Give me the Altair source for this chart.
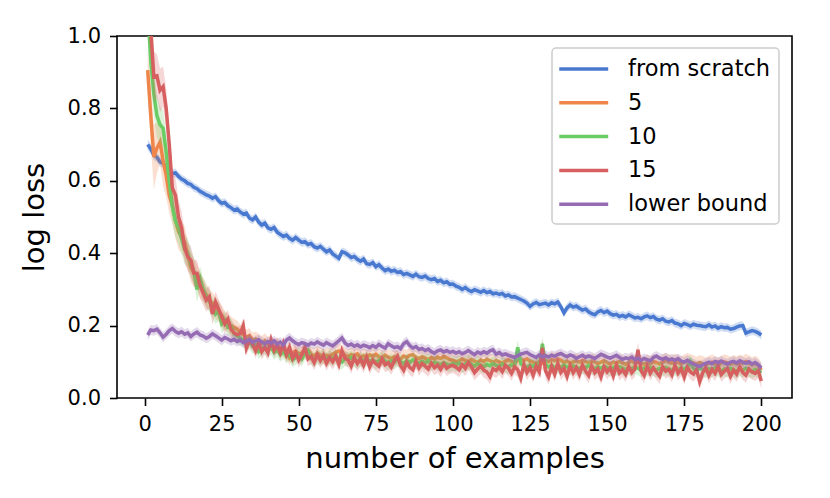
import altair as alt
import pandas as pd

x_vals = list(range(1, 201))
series_names = ["from scratch", "5", "10", "15", "lower bound"]
colors = ["#4878d0", "#ee854a", "#6acc64", "#d65f5f", "#956cb4"]
x_ticks = [0, 25, 50, 75, 100, 125, 150, 175, 200]
y_ticks = [0.0, 0.2, 0.4, 0.6, 0.8, 1.0]

scratch = [
    0.700, 0.688, 0.671, 0.665, 0.652, 0.648, 0.640, 0.626, 0.620, 0.622,
    0.612, 0.605, 0.600, 0.593, 0.590, 0.582, 0.578, 0.571, 0.566, 0.561,
    0.558, 0.552, 0.556, 0.545, 0.538, 0.540, 0.531, 0.526, 0.519, 0.522,
    0.514, 0.508, 0.511, 0.497, 0.492, 0.500, 0.486, 0.478, 0.483, 0.470,
    0.466, 0.471, 0.458, 0.452, 0.446, 0.450, 0.441, 0.436, 0.443, 0.436,
    0.430, 0.432, 0.424, 0.427, 0.418, 0.414, 0.419, 0.411, 0.404, 0.409,
    0.398, 0.392, 0.386, 0.404, 0.401, 0.395, 0.388, 0.391, 0.383, 0.378,
    0.384, 0.371, 0.369, 0.374, 0.363, 0.368, 0.359, 0.352, 0.356, 0.350,
    0.353, 0.347, 0.349, 0.341, 0.344, 0.340, 0.336, 0.342, 0.335, 0.333,
    0.337, 0.330, 0.327, 0.330, 0.322, 0.325, 0.318, 0.321, 0.314, 0.315,
    0.309, 0.306, 0.300, 0.305, 0.298, 0.294, 0.299, 0.296, 0.292, 0.297,
    0.291, 0.294, 0.288, 0.290, 0.286, 0.289, 0.282, 0.285, 0.279, 0.280,
    0.276, 0.272, 0.268, 0.262, 0.253, 0.260, 0.264, 0.258, 0.260, 0.262,
    0.257, 0.263, 0.260, 0.265, 0.252, 0.235, 0.249, 0.257, 0.251, 0.254,
    0.248, 0.243, 0.246, 0.238, 0.233, 0.230, 0.238, 0.242, 0.236, 0.240,
    0.233, 0.229, 0.231, 0.225, 0.228, 0.224, 0.230, 0.226, 0.221, 0.223,
    0.219, 0.224, 0.227, 0.222, 0.225, 0.218, 0.215, 0.219, 0.212, 0.210,
    0.214, 0.207, 0.205, 0.200, 0.206, 0.203, 0.199, 0.204, 0.201, 0.200,
    0.198, 0.197, 0.202, 0.196, 0.199, 0.193, 0.197, 0.194, 0.195, 0.190,
    0.192, 0.196, 0.199, 0.200, 0.179, 0.183, 0.186, 0.184, 0.180, 0.174,
]

five = [
    0.906, 0.780, 0.666, 0.690, 0.707, 0.655, 0.615, 0.560, 0.530, 0.490,
    0.460, 0.445, 0.430, 0.395, 0.360, 0.345, 0.335, 0.310, 0.300, 0.285,
    0.270, 0.262, 0.248, 0.240, 0.228, 0.215, 0.207, 0.200, 0.195, 0.190,
    0.182, 0.175, 0.168, 0.172, 0.160, 0.163, 0.157, 0.150, 0.158, 0.148,
    0.152, 0.140, 0.146, 0.138, 0.133, 0.128, 0.112, 0.125, 0.130, 0.122,
    0.124, 0.128, 0.133, 0.120, 0.117, 0.123, 0.119, 0.112, 0.118, 0.115,
    0.121, 0.126, 0.130, 0.124, 0.118, 0.113, 0.120, 0.116, 0.122, 0.111,
    0.117, 0.112, 0.119, 0.115, 0.121, 0.114, 0.110, 0.118, 0.113, 0.109,
    0.114, 0.108, 0.107, 0.116, 0.112, 0.118, 0.120, 0.111, 0.109, 0.114,
    0.110, 0.106, 0.112, 0.108, 0.113, 0.109, 0.115, 0.111, 0.106, 0.104,
    0.100, 0.103, 0.108, 0.104, 0.099, 0.106, 0.102, 0.098, 0.105, 0.101,
    0.107, 0.103, 0.099, 0.104, 0.100, 0.097, 0.102, 0.106, 0.101, 0.098,
    0.103, 0.107, 0.104, 0.108, 0.102, 0.099, 0.094, 0.101, 0.097, 0.104,
    0.100, 0.106, 0.103, 0.108, 0.104, 0.098, 0.102, 0.096, 0.100, 0.103,
    0.099, 0.104, 0.101, 0.097, 0.102, 0.100, 0.095, 0.099, 0.103, 0.098,
    0.094, 0.099, 0.096, 0.101, 0.097, 0.093, 0.098, 0.102, 0.096, 0.100,
    0.097, 0.093, 0.099, 0.095, 0.101, 0.098, 0.094, 0.099, 0.103, 0.100,
    0.096, 0.101, 0.098, 0.094, 0.099, 0.103, 0.100, 0.097, 0.093, 0.098,
    0.095, 0.091, 0.096, 0.099, 0.094, 0.090, 0.096, 0.100, 0.097, 0.093,
    0.098, 0.094, 0.099, 0.096, 0.101, 0.097, 0.092, 0.096, 0.090, 0.077,
]

ten = [
    1.080, 0.930, 0.840, 0.780, 0.755, 0.745, 0.680, 0.600, 0.530, 0.490,
    0.470, 0.440, 0.410, 0.400, 0.370, 0.350, 0.300, 0.330, 0.300, 0.280,
    0.268, 0.250, 0.232, 0.240, 0.205, 0.215, 0.195, 0.198, 0.178, 0.172,
    0.165, 0.160, 0.150, 0.155, 0.143, 0.148, 0.128, 0.135, 0.142, 0.130,
    0.140, 0.126, 0.133, 0.120, 0.128, 0.116, 0.122, 0.105, 0.112, 0.118,
    0.108, 0.124, 0.130, 0.112, 0.105, 0.114, 0.109, 0.117, 0.106, 0.113,
    0.108, 0.115, 0.103, 0.099, 0.110, 0.106, 0.112, 0.104, 0.100, 0.108,
    0.103, 0.109, 0.101, 0.106, 0.098, 0.104, 0.110, 0.102, 0.097, 0.103,
    0.099, 0.106, 0.101, 0.095, 0.103, 0.098, 0.105, 0.100, 0.096, 0.102,
    0.097, 0.103, 0.094, 0.099, 0.096, 0.092, 0.098, 0.094, 0.090, 0.096,
    0.092, 0.097, 0.089, 0.094, 0.099, 0.093, 0.088, 0.095, 0.091, 0.086,
    0.093, 0.089, 0.095, 0.090, 0.087, 0.094, 0.090, 0.085, 0.092, 0.088,
    0.140, 0.095, 0.089, 0.084, 0.091, 0.087, 0.093, 0.085, 0.150, 0.092,
    0.086, 0.090, 0.083, 0.088, 0.084, 0.091, 0.086, 0.082, 0.089, 0.085,
    0.081, 0.087, 0.083, 0.090, 0.085, 0.080, 0.086, 0.082, 0.088, 0.084,
    0.079, 0.085, 0.081, 0.087, 0.083, 0.078, 0.084, 0.080, 0.086, 0.082,
    0.077, 0.083, 0.079, 0.085, 0.081, 0.076, 0.082, 0.078, 0.084, 0.080,
    0.076, 0.082, 0.078, 0.084, 0.079, 0.085, 0.100, 0.081, 0.077, 0.083,
    0.079, 0.075, 0.081, 0.077, 0.083, 0.078, 0.074, 0.080, 0.076, 0.082,
    0.078, 0.074, 0.080, 0.076, 0.082, 0.077, 0.073, 0.079, 0.075, 0.070,
]

fifteen = [
    1.120, 1.020, 0.887, 0.890, 0.850, 0.860, 0.800, 0.700, 0.580, 0.560,
    0.500, 0.470, 0.415, 0.390, 0.380, 0.345, 0.344, 0.310, 0.290, 0.270,
    0.280, 0.232, 0.265, 0.245, 0.225, 0.205, 0.218, 0.190, 0.180, 0.175,
    0.178, 0.200, 0.138, 0.160, 0.150, 0.130, 0.152, 0.128, 0.140, 0.125,
    0.160, 0.132, 0.146, 0.125, 0.150, 0.120, 0.140, 0.110, 0.125, 0.105,
    0.120, 0.140, 0.108, 0.115, 0.098, 0.120, 0.104, 0.118, 0.096, 0.112,
    0.100, 0.115, 0.093, 0.130, 0.110, 0.105, 0.088, 0.112, 0.095, 0.108,
    0.090, 0.112, 0.086, 0.104, 0.095, 0.088, 0.108, 0.092, 0.097, 0.085,
    0.103, 0.115, 0.090, 0.077, 0.098, 0.085, 0.078, 0.101, 0.083, 0.095,
    0.088, 0.080, 0.096, 0.084, 0.091, 0.079, 0.094, 0.082, 0.088, 0.090,
    0.085, 0.078, 0.092, 0.082, 0.098, 0.086, 0.070, 0.080, 0.088, 0.077,
    0.072, 0.059, 0.081, 0.076, 0.085, 0.073, 0.090, 0.082, 0.068, 0.086,
    0.078, 0.055, 0.092, 0.070, 0.084, 0.063, 0.088, 0.072, 0.138, 0.075,
    0.058, 0.087, 0.066, 0.095, 0.071, 0.082, 0.060, 0.089, 0.070, 0.084,
    0.065, 0.091, 0.074, 0.062, 0.088, 0.070, 0.080, 0.058, 0.086, 0.072,
    0.083, 0.061, 0.090, 0.069, 0.078, 0.065, 0.087, 0.070, 0.080, 0.133,
    0.075, 0.062, 0.088, 0.068, 0.083, 0.071, 0.060, 0.086, 0.074, 0.079,
    0.064, 0.090, 0.069, 0.081, 0.058, 0.085, 0.072, 0.066, 0.078, 0.045,
    0.070, 0.084, 0.062, 0.079, 0.068, 0.088, 0.065, 0.074, 0.082, 0.060,
    0.077, 0.066, 0.086, 0.070, 0.063, 0.080, 0.072, 0.068, 0.075, 0.047,
]

lower = [
    0.174, 0.188, 0.186, 0.190, 0.180, 0.168, 0.176, 0.186, 0.192, 0.184,
    0.179, 0.183, 0.176, 0.180, 0.170, 0.177, 0.182, 0.174, 0.171, 0.165,
    0.170, 0.177, 0.172, 0.166, 0.160, 0.167, 0.163, 0.158, 0.162, 0.156,
    0.160, 0.153, 0.157, 0.162, 0.154, 0.158, 0.161, 0.155, 0.150, 0.156,
    0.152, 0.158, 0.149, 0.154, 0.147, 0.160, 0.166, 0.158, 0.152, 0.148,
    0.153, 0.150, 0.146, 0.152, 0.149, 0.155, 0.150, 0.146, 0.153, 0.148,
    0.144, 0.151, 0.158, 0.166, 0.152, 0.145, 0.149, 0.143, 0.147, 0.141,
    0.146, 0.143, 0.139, 0.145, 0.140, 0.148, 0.142, 0.138, 0.150, 0.144,
    0.139, 0.142, 0.136, 0.150, 0.156, 0.145, 0.138, 0.142, 0.134, 0.137,
    0.131, 0.135, 0.128, 0.124, 0.130, 0.133, 0.127, 0.131, 0.126, 0.129,
    0.124, 0.128, 0.122, 0.126, 0.131, 0.125, 0.120, 0.127, 0.123, 0.128,
    0.124, 0.130, 0.133, 0.121, 0.126, 0.119, 0.122, 0.118, 0.115, 0.112,
    0.117, 0.121, 0.124, 0.126, 0.120, 0.116, 0.112, 0.119, 0.114, 0.117,
    0.113, 0.118, 0.115, 0.120, 0.123, 0.118, 0.114, 0.119, 0.116, 0.110,
    0.114, 0.118, 0.112, 0.116, 0.113, 0.109, 0.115, 0.121, 0.117, 0.113,
    0.110, 0.114, 0.118, 0.112, 0.107, 0.111, 0.108, 0.113, 0.106, 0.110,
    0.104, 0.109, 0.106, 0.103, 0.112, 0.116, 0.110, 0.107, 0.111, 0.105,
    0.108, 0.104, 0.109, 0.102, 0.099, 0.104, 0.098, 0.094, 0.090, 0.087,
    0.092, 0.096, 0.099, 0.095, 0.101, 0.098, 0.102, 0.097, 0.094, 0.099,
    0.101, 0.097, 0.103, 0.099, 0.096, 0.100, 0.094, 0.098, 0.092, 0.083,
]

# confidence band half-widths (early values listed, later ones steady)
scratch_hw = [0.015, 0.014, 0.014, 0.013, 0.013] + [0.012] * 195
five_hw = [0.060, 0.080, 0.090, 0.070, 0.060, 0.070, 0.060, 0.050, 0.050, 0.050,
           0.050, 0.045, 0.045, 0.040, 0.040, 0.038, 0.035, 0.035, 0.032, 0.032,
           0.030, 0.030, 0.030, 0.028, 0.028, 0.026, 0.026, 0.025, 0.024, 0.024] + [0.021] * 170
ten_hw = [0.080, 0.070, 0.060, 0.060, 0.050, 0.050, 0.050, 0.050, 0.045, 0.045,
          0.045, 0.042, 0.040, 0.040, 0.038, 0.036, 0.035, 0.033, 0.032, 0.031,
          0.030, 0.029, 0.028, 0.027, 0.026, 0.025, 0.024, 0.023, 0.023, 0.022] + [0.020] * 170
fifteen_hw = [0.080, 0.080, 0.070, 0.060, 0.060, 0.055, 0.055, 0.050, 0.050, 0.050,
              0.048, 0.045, 0.042, 0.040, 0.040, 0.038, 0.036, 0.035, 0.034, 0.032,
              0.031, 0.030, 0.029, 0.028, 0.027, 0.026, 0.025, 0.025, 0.024, 0.024] + [0.021] * 170
lower_hw = [0.014] * 200

means = [scratch, five, ten, fifteen, lower]
hws = [scratch_hw, five_hw, ten_hw, fifteen_hw, lower_hw]
for m, h in zip(means, hws):
    assert len(m) == 200 and len(h) == 200

rows = []
for name, m, h in zip(series_names, means, hws):
    for xv, mv, hv in zip(x_vals, m, h):
        rows.append({"x": xv, "series": name, "mean": mv, "lo": mv - hv, "hi": mv + hv})
df = pd.DataFrame(rows)

xscale = alt.Scale(domain=[-8.95, 209.95], nice=False, zero=False)
yscale = alt.Scale(domain=[0, 1], nice=False)
xenc = alt.X("x:Q", scale=xscale, title="number of examples",
             axis=alt.Axis(values=x_ticks, format="d"))
cscale = alt.Scale(domain=series_names, range=colors)
legend = alt.Legend(
    title=None, orient="none", legendX=435, legendY=12,
    symbolType="M-1.25,0H3.2", symbolSize=484, symbolStrokeWidth=3.5,
    labelFontSize=22.5, labelFont="DejaVu Sans", labelColor="black",
    labelOffset=42, padding=8, rowPadding=8.8,
    strokeColor="#cccccc", fillColor="rgba(255,255,255,0.8)", cornerRadius=4,
)

layers = []
for name, col in zip(series_names, colors):
    base = alt.Chart(df).transform_filter(alt.datum.series == name)
    band = base.mark_area(clip=True, opacity=0.25, color=col).encode(
        x=xenc,
        y=alt.Y("lo:Q", scale=yscale, title="log loss",
                axis=alt.Axis(values=y_ticks, format=".1f")),
        y2="hi:Q",
    )
    line = base.mark_line(clip=True, strokeWidth=3.5).encode(
        x=xenc,
        y=alt.Y("mean:Q", scale=yscale, title="log loss",
                axis=alt.Axis(values=y_ticks, format=".1f")),
        color=alt.Color("series:N", scale=cscale, legend=legend),
    )
    layers += [band, line]

chart = (
    alt.layer(*layers)
    .properties(
        width=675, height=362,
        autosize=alt.AutoSizeParams(type="none"),
        padding={"left": 109, "top": 28, "right": 20, "bottom": 80},
    )
    .configure_view(stroke="black", strokeWidth=1.6)
    .configure_axis(
        domain=False, grid=False, ticks=True, tickColor="black", tickWidth=1.6, tickSize=7.5,
        labelFont="DejaVu Sans", labelFontSize=21, labelColor="black",
        titleFont="DejaVu Sans", titleFontSize=29, titleFontWeight="normal", titleColor="black",
    )
    .configure_axisX(labelPadding=24.5, labelBaseline="alphabetic",
                     titleBaseline="alphabetic", titleY=69)
    .configure_axisY(labelPadding=9, titleBaseline="alphabetic", titleX=-74, titleY=181)
    .configure_legend(strokeWidth=1.5)
)

chart.save("out.html", embed_options={"renderer": "svg", "actions": False})
